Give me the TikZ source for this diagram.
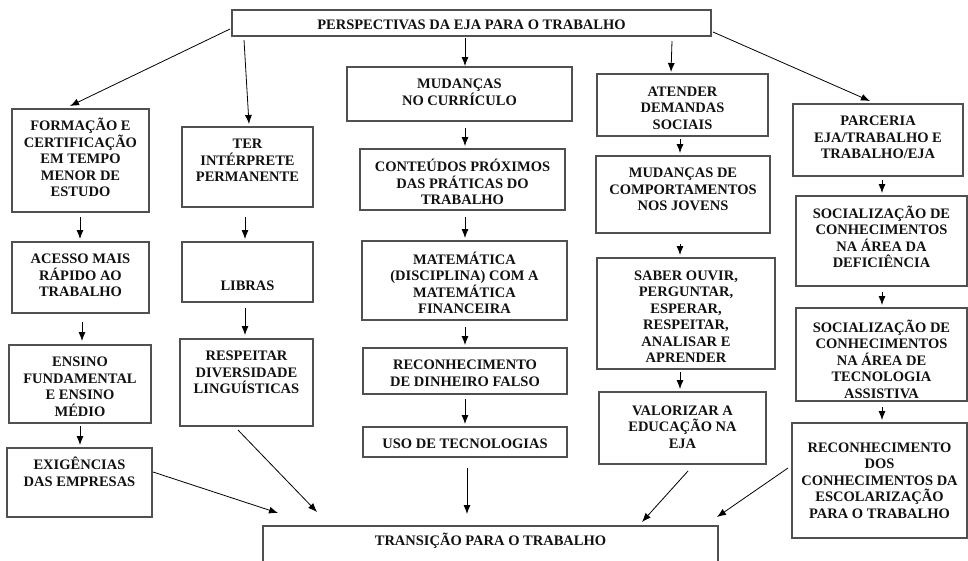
\documentclass[tikz,border=0pt]{standalone}
\usepackage{fontspec}
\setmainfont{Liberation Serif}[BoldFont={Liberation Serif Bold}]
\usetikzlibrary{calc,arrows.meta}
\definecolor{boxline}{HTML}{505050}
\definecolor{txt}{HTML}{111111}
\newcommand{\bt}[4][21.5]{\parbox[c][#3pt][t]{#2pt}{\centering\rule{0pt}{#1pt}#4}}
\tikzset{
  bx/.style={draw=boxline, line width=1.3pt, inner sep=0pt, outer sep=0pt, anchor=north west,
    text=txt, font=\fontsize{14.5pt}{16.5pt}\selectfont\bfseries},
  arr/.style={draw=black, line width=0.8pt, -{Latex[length=9pt,width=7pt]}}
}
\begin{document}
\begin{tikzpicture}[x=1pt,y=-1pt]
\useasboundingbox (0,0) rectangle (968,560);
\clip (0,0) rectangle (968,560);
% top
\node[bx] (top) at (232,10) {\bt[19]{479}{26}{PERSPECTIVAS DA EJA PARA O TRABALHO}};
% column 1
\node[bx] (form) at (12,109) {\bt{137}{103}{FORMAÇÃO E\\CERTIFICAÇÃO\\EM TEMPO\\MENOR DE\\ESTUDO}};
\node[bx] (acesso) at (12,242) {\bt{137}{71}{ACESSO MAIS\\RÁPIDO AO\\TRABALHO}};
\node[bx] (ensino) at (9,345) {\bt{142}{78}{ENSINO\\FUNDAMENTAL\\E ENSINO\\MÉDIO}};
\node[bx] (exig) at (7,448) {\bt{145}{69}{EXIGÊNCIAS\\DAS EMPRESAS}};
% column 2
\node[bx] (ter) at (182,127) {\bt{131}{80}{TER\\INTÉRPRETE\\PERMANENTE}};
\node[bx] (libras) at (182,242) {\bt[48]{131}{60}{LIBRAS}};
\node[bx] (resp) at (180,339) {\bt{133}{87}{RESPEITAR\\DIVERSIDADE\\LINGUÍSTICAS}};
% column 3
\node[bx] (mud) at (347,67) {\bt{225}{54}{MUDANÇAS\\NO CURRÍCULO}};
\node[bx] (cont) at (360,149) {\bt[22.5]{205}{61}{CONTEÚDOS PRÓXIMOS\\DAS PRÁTICAS DO\\TRABALHO}};
\node[bx] (mat) at (362,241) {\bt[23]{205}{79}{MATEMÁTICA\\(DISCIPLINA) COM A\\MATEMÁTICA\\FINANCEIRA}};
\node[bx] (dinh) at (363,348) {\bt{204}{46}{RECONHECIMENTO\\DE DINHEIRO FALSO}};
\node[bx] (uso) at (363,427) {\bt[21]{204}{30}{USO DE TECNOLOGIAS}};
% column 4
\node[bx] (aten) at (597,74) {\bt[22]{171}{62}{ATENDER\\DEMANDAS\\SOCIAIS}};
\node[bx] (comp) at (596,156) {\bt{174}{77}{MUDANÇAS DE\\COMPORTAMENTOS\\NOS JOVENS}};
\node[bx] (saber) at (597,258) {\bt[22]{178}{111}{SABER OUVIR,\\PERGUNTAR,\\ESPERAR,\\RESPEITAR,\\ANALISAR E\\APRENDER}};
\node[bx] (valor) at (599,392) {\bt[23]{167}{72}{VALORIZAR A\\EDUCAÇÃO NA\\EJA}};
% column 5
\node[bx] (parc) at (793,104) {\bt{170}{72}{PARCERIA\\EJA/TRABALHO E\\TRABALHO/EJA}};
\node[bx] (soc1) at (796,196) {\bt[22]{171}{90}{SOCIALIZAÇÃO DE\\CONHECIMENTOS\\NA ÁREA DA\\DEFICIÊNCIA}};
\node[bx] (soc2) at (796,308) {\bt[24]{171}{93}{SOCIALIZAÇÃO DE\\CONHECIMENTOS\\NA ÁREA DE\\TECNOLOGIA\\ASSISTIVA}};
\node[bx] (recdos) at (792,423) {\bt[29]{175}{115}{RECONHECIMENTO\\DOS\\CONHECIMENTOS DA\\ESCOLARIZAÇÃO\\PARA O TRABALHO}};
% bottom
\node[bx] (trans) at (263,526) {\bt[19]{455}{50}{TRANSIÇÃO PARA O TRABALHO}};
% arrows from top
\draw[arr] ($(top.north west)+(-2,19)$) -- ($(form.north west)+(58,-3)$);
\draw[arr] ($(top.north west)+(12,30)$) -- ($(ter.north west)+(67,-3)$);
\draw[arr] ($(top.north west)+(233,28)$) -- ($(mud.north west)+(118,-1)$);
\draw[arr] ($(top.north west)+(440,31)$) -- ($(aten.north west)+(74,-2)$);
\draw[arr] ($(top.north west)+(481,22)$) -- ($(parc.north west)+(77,-3)$);
% column 1
\draw[arr] ($(form.north west)+(68,108)$) -- ($(acesso.north west)+(68,-3)$);
\draw[arr] ($(acesso.north west)+(70,80)$) -- ($(ensino.north west)+(73,-4)$);
\draw[arr] ($(ensino.north west)+(71,81)$) -- ($(exig.north west)+(73,-3)$);
\draw[arr] ($(exig.north west)+(146,24)$) -- ($(trans.north west)+(15,-13)$);
% column 2
\draw[arr] ($(ter.north west)+(63,90)$) -- ($(libras.north west)+(63,-3)$);
\draw[arr] ($(libras.north west)+(63,66)$) -- ($(resp.north west)+(65,-4)$);
\draw[arr] ($(resp.north west)+(58,91)$) -- ($(trans.north west)+(54,-14)$);
% column 3
\draw[arr] ($(mud.north west)+(118,61)$) -- ($(cont.north west)+(105,-3)$);
\draw[arr] ($(cont.north west)+(105,68)$) -- ($(mat.north west)+(103,-3)$);
\draw[arr] ($(mat.north west)+(103,86)$) -- ($(dinh.north west)+(102,-3)$);
\draw[arr] ($(dinh.north west)+(102,51)$) -- ($(uso.north west)+(102,-3)$);
\draw[arr] ($(uso.north west)+(104,41)$) -- ($(trans.north west)+(204,-12)$);
% column 4
\draw[arr] ($(aten.north west)+(83,65)$) -- ($(comp.north west)+(84,-3)$);
\draw[arr] ($(comp.north west)+(84,88)$) -- ($(saber.north west)+(83,-3)$);
\draw[arr] ($(saber.north west)+(83,114)$) -- ($(valor.north west)+(81,-3)$);
\draw[arr] ($(valor.north west)+(89,79)$) -- ($(trans.north west)+(379,-4)$);
% column 5
\draw[arr] ($(parc.north west)+(89,76)$) -- ($(soc1.north west)+(86,-3)$);
\draw[arr] ($(soc1.north west)+(86,96)$) -- ($(soc2.north west)+(86,-3)$);
\draw[arr] ($(soc2.north west)+(86,99)$) -- ($(recdos.north west)+(90,-3)$);
\draw[arr] ($(recdos.north west)+(-4,45)$) -- ($(trans.north west)+(454,-9)$);
\end{tikzpicture}
\end{document}
